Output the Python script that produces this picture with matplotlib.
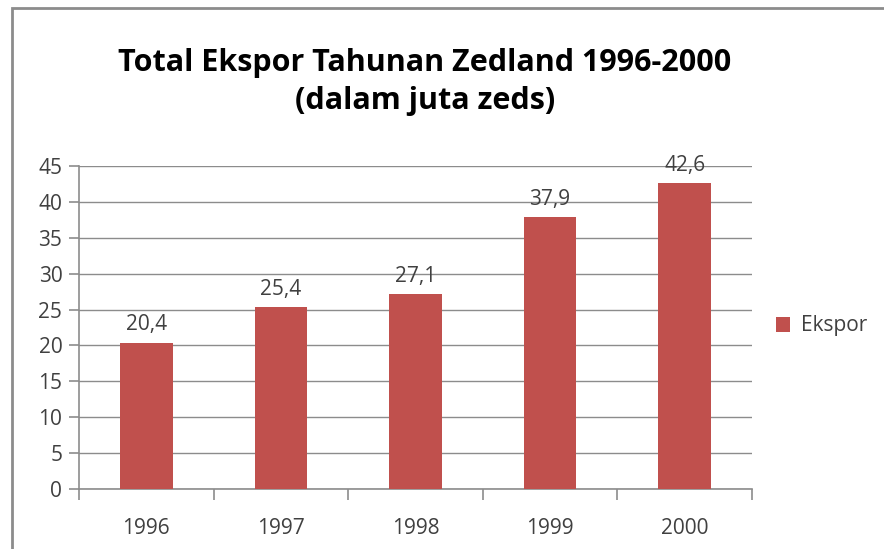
import matplotlib.pyplot as plt
from matplotlib.patches import Rectangle

plt.rcParams['font.family'] = ['Open Sans', 'DejaVu Sans']

# data
tahun = ['1996', '1997', '1998', '1999', '2000']
ekspor = [20.4, 25.4, 27.1, 37.9, 42.6]
label_ekspor = ['20,4', '25,4', '27,1', '37,9', '42,6']
y_ticks = [0, 5, 10, 15, 20, 25, 30, 35, 40, 45]

merah = '#C0504D'
abu = '#8C8C8C'
teks = '#404040'

fig = plt.figure(figsize=(8.84, 5.49), dpi=100)
ax = fig.add_axes([79/884, 60/549, (752-79)/884, (489-166)/549])

x = range(len(tahun))
bars = ax.bar(x, ekspor, width=0.39, color=merah, label='Ekspor', zorder=3)
for xi, v, lab in zip(x, ekspor, label_ekspor):
    ax.text(xi, v + 1.0, lab, ha='center', va='bottom', fontsize=15, color=teks)

ax.set_xlim(-0.5, len(tahun) - 0.5)
ax.set_ylim(0, 45)
ax.set_yticks(y_ticks)
ax.set_yticklabels([str(t) for t in y_ticks], fontsize=15, color=teks)
ax.set_xticks(list(x))
ax.set_xticklabels(tahun, fontsize=15, color=teks)
ax.set_xticks([i - 0.5 for i in range(len(tahun) + 1)], minor=True)
ax.tick_params(axis='x', which='major', length=0, pad=21)
ax.tick_params(axis='x', which='minor', length=8, color=abu, width=1.2)
ax.tick_params(axis='y', length=7, color=abu, width=1.2, pad=5)
ax.grid(axis='y', color=abu, linewidth=1.0, zorder=0)

for s in ['top', 'right']:
    ax.spines[s].set_visible(False)
for s in ['left', 'bottom']:
    ax.spines[s].set_color(abu)
    ax.spines[s].set_linewidth(1.2)

fig.text(425/884, 1 - 63/549, 'Total Ekspor Tahunan Zedland 1996-2000',
         ha='center', va='center', fontsize=22, fontweight='bold', color='black')
fig.text(425/884, 1 - 101/549, '(dalam juta zeds)',
         ha='center', va='center', fontsize=22, fontweight='bold', color='black')

fig.legend(handles=[bars], labels=['Ekspor'], loc='center left',
           bbox_to_anchor=(757/884, 1 - 326/549), frameon=False,
           handlelength=0.7, handleheight=0.7, handletextpad=0.5,
           prop={'size': 15}, labelcolor=teks)

# bingkai chart
fig.patches.append(Rectangle((12/884, -0.1), 2, 1.1 - 8/549, transform=fig.transFigure,
                             fill=False, edgecolor='#8C8C8C', linewidth=2))

fig.savefig('out.png', dpi=100)
